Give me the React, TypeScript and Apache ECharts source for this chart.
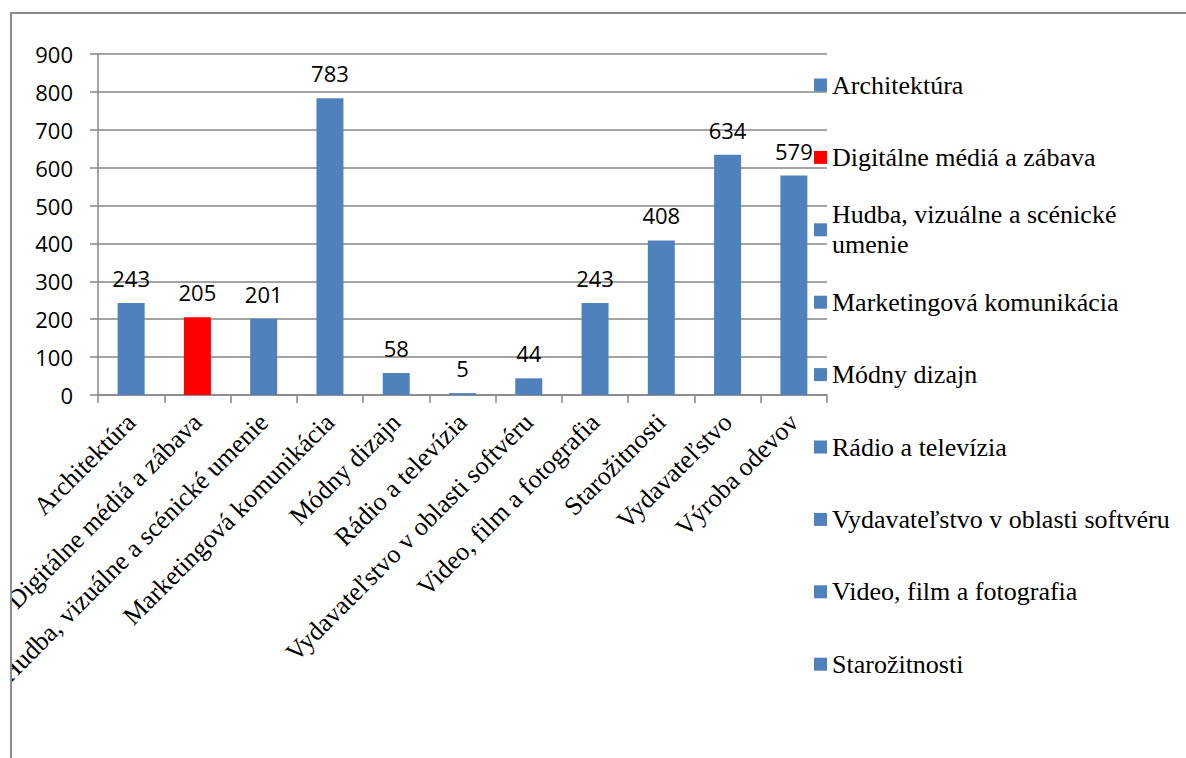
import React, { useEffect, useRef } from "react";
import * as echarts from "echarts";

const categories = [
  "Architektúra",
  "Digitálne médiá a zábava",
  "Hudba, vizuálne a scénické umenie",
  "Marketingová komunikácia",
  "Módny dizajn",
  "Rádio a televízia",
  "Vydavateľstvo v oblasti softvéru",
  "Video, film a fotografia",
  "Starožitnosti",
  "Vydavateľstvo",
  "Výroba odevov",
];
const values = [243, 205, 201, 783, 58, 5, 44, 243, 408, 634, 579];
const barColors = [
  "#4F81BD", "#FF0000", "#4F81BD", "#4F81BD", "#4F81BD", "#4F81BD",
  "#4F81BD", "#4F81BD", "#4F81BD", "#4F81BD", "#4F81BD",
];
const legendCount = 9; // legend is cut off after the 9th entry
const yMin = 0;
const yMax = 900;
const yStep = 100;

const SERIF = "'Liberation Serif', 'Times New Roman', 'DejaVu Serif', serif";
const SANS = "'Open Sans', sans-serif";

export default function App() {
  const ref = useRef<HTMLDivElement>(null);
  useEffect(() => {
    if (!ref.current) return;
    const chart = echarts.init(ref.current, null, { renderer: "svg" });
    const series = categories.map((name, i) => ({
      name,
      type: "bar",
      stack: "all",
      barWidth: 27,
      itemStyle: { color: barColors[i] },
      label: {
        show: true,
        position: "top",
        distance: 14,
        fontFamily: SANS,
        fontSize: 22,
        color: "#000",
      },
      data: values.map((v, j) => (j === i ? v : "-")),
    }));
    const legendData = categories.slice(0, legendCount).map((name, i) =>
      i === 2
        ? { name, textStyle: { padding: [30, 0, 0, 0] } }
        : { name }
    );
    chart.setOption({
      animation: false,
      backgroundColor: "#fff",
      grid: { left: 98, top: 54, width: 729, height: 341, containLabel: false, outerBoundsMode: "none" },
      legend: {
        orient: "vertical",
        left: 814,
        top: 40,
        padding: 0,
        itemGap: -17.6,
        itemWidth: 13,
        itemHeight: 13,
        icon: "rect",
        selectedMode: false,
        data: legendData,
        formatter: (name: string) =>
          name === categories[2] ? name.replace("scénické ", "scénické\n") : name,
        textStyle: {
          fontFamily: SERIF,
          fontSize: 26,
          lineHeight: 30,
          color: "#000",
          padding: [30, 0, 30, 0],
        },
      },
      xAxis: {
        type: "category",
        data: categories,
        axisLine: { lineStyle: { color: "#868686", width: 1.5 } },
        axisTick: { show: true, length: 8, alignWithLabel: false, lineStyle: { color: "#868686", width: 1.5 } },
        axisLabel: {
          interval: 0,
          rotate: 45,
          margin: 23,
          fontFamily: SERIF,
          fontSize: 26,
          color: "#000",
        },
      },
      yAxis: {
        type: "value",
        min: yMin,
        max: yMax,
        interval: yStep,
        axisLine: { show: true, lineStyle: { color: "#868686", width: 1.5 } },
        axisTick: { show: true, length: 8, lineStyle: { color: "#868686", width: 1.5 } },
        splitLine: { show: true, lineStyle: { color: "#868686", width: 1.5 } },
        axisLabel: {
          margin: 25,
          fontFamily: SANS,
          fontSize: 22,
          color: "#000",
        },
      },
      graphic: [
        {
          type: "rect",
          z: 100,
          shape: { x: 0, y: 0, width: 10, height: 758 },
          style: { fill: "#fff" },
        },
        {
          type: "rect",
          z: 101,
          shape: { x: 11, y: 13, width: 1300, height: 900 },
          style: { fill: "none", stroke: "#8c8c8c", lineWidth: 2 },
        },
      ],
      series,
    });
    return () => chart.dispose();
  }, []);
  return (
    <div
      ref={ref}
      style={{ position: "absolute", left: 0, top: 0, width: 1186, height: 758 }}
    />
  );
}
